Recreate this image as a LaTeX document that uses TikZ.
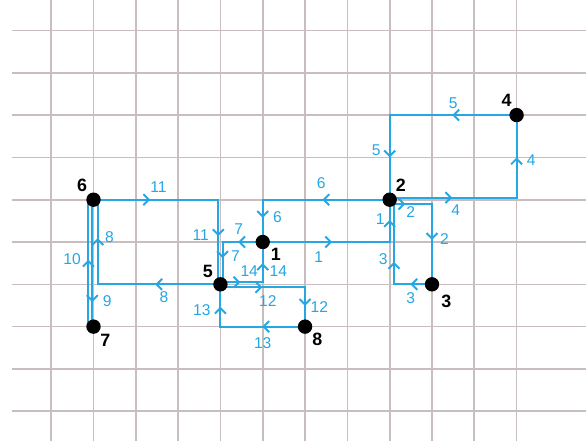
\documentclass[tikz,border=0pt]{standalone}
\usepackage{fontspec}
\setmainfont{Liberation Sans}
\usetikzlibrary{arrows.meta,decorations.markings,backgrounds}
\definecolor{walkblue}{RGB}{38,166,226}
\definecolor{gridgray}{RGB}{200,190,192}

\begin{document}
\begin{tikzpicture}[>={Straight Barb[length=1.3mm,width=2.6mm]},
dot/.style={circle,fill=black,inner sep=0pt,minimum size=3.4mm},
nlbl/.style={inner sep=1pt,font=\fontsize{12}{14}\selectfont\bfseries},
lbl/.style={inner sep=0pt,text=walkblue,font=\fontsize{10.5}{12}\selectfont},
walk/.style={draw=walkblue,line width=1.3pt},
grid line/.style={draw=gridgray,line width=1.1pt},
twoheads/.style 2 args={postaction={decorate},decoration={markings,
  mark=at position #1 with {\arrow{>}},mark=at position #2 with {\arrow{>}}}},
onehead/.style={postaction={decorate},decoration={markings,mark=at position #1 with {\arrow{>}}}}]
\useasboundingbox (-0.21,-0.68) rectangle (13.64,9.72);
\node[dot,label={[nlbl]-32:1}] (n1) at (6,4) {};
\node[dot,label={[nlbl]54:2}] (n2) at (9,5) {};
\node[dot,label={[nlbl,label distance=1mm]-50:3}] (n3) at (10,3) {};
\node[dot,label={[nlbl]116:4}] (n4) at (12,7) {};
\node[dot,label={[nlbl]140:5}] (n5) at (5,3) {};
\node[dot,label={[nlbl]128:6}] (n6) at (2,5) {};
\node[dot,label={[nlbl]-46:7}] (n7) at (2,2) {};
\node[dot,label={[nlbl]-42:8}] (n8) at (7,2) {};
\begin{scope}[on background layer]
\foreach \x in {1,...,12} \draw[grid line] (\x,-0.7) -- (\x,9.75);
\foreach \y in {0,...,9} \draw[grid line] (0.08,\y) -- (13.7,\y);
% the walk, step by step
\path[walk,twoheads={1.64cm}{-0.48cm}] (n1.center) -| node[lbl,pos=.22,below=2mm]{1} node[lbl,pos=.77,left=1mm]{1} (n2.center);
\path[walk,twoheads={0.37cm}{-1.05cm}] ([yshift=-1mm]n2.center) -| node[lbl,pos=.25,below=.5mm]{2} node[lbl,pos=.72,right=1.7mm]{2} (n3.center);
\path[walk,twoheads={0.51cm}{1.43cm}] (n3.center) -| node[lbl,pos=.28,below=1.7mm]{3} node[lbl,pos=.65,left=1.3mm]{3} ([xshift=1mm]n2.center);
\path[walk,twoheads={1.48cm}{-1cm}] ([yshift=.5mm]n2.center) -| node[lbl,pos=.26,below=1.4mm]{4} node[lbl,pos=.73,right=2.2mm]{4} (n4.center);
\path[walk,twoheads={1.52cm}{-1cm}] (n4.center) -| node[lbl,pos=.25,above=1.2mm]{5} node[lbl,pos=.71,left=1.9mm]{5} (n2.center);
\path[walk,twoheads={1.59cm}{-0.57cm}] (n2.center) -| node[lbl,pos=.27,above=2.4mm]{6} node[lbl,pos=.71,right=2.2mm]{6} (n1.center);
\path[walk,twoheads={0.58cm}{1.33cm}] (n1.center) -| node[lbl,pos=.3,above=1.5mm]{7} node[lbl,pos=.67,right=1.8mm]{7} ([xshift=.5mm]n5.center);
\path[walk,twoheads={1.54cm}{3.99cm}] (n5.center) -| node[lbl,pos=.23,below=1.4mm]{8} node[lbl,pos=.78,right=1.5mm]{8} ([xshift=1mm]n6.center) -- (n6.center);
\path[walk,onehead={-0.58cm}] ([xshift=-.3mm]n6.center) -- node[lbl,pos=.8,right=2.3mm]{9} ([xshift=-.3mm]n7.center);
\path[walk,onehead={1.58cm}] ([xshift=-1.2mm]n7.center) -- node[lbl,pos=.53,left=1.6mm]{10} ([xshift=-1.2mm]n6.center);
\path[walk,twoheads={1.34cm}{3.81cm}] (n6.center) -| node[lbl,pos=.26,above=1.4mm]{11} node[lbl,pos=.71,left=2mm]{11} ([xshift=-.5mm]n5.center);
\path[walk,twoheads={0.99cm}{-0.49cm}] ([yshift=-.7mm]n5.center) -| node[lbl,pos=.28,below=1.7mm]{12} node[lbl,pos=.75,right=1.1mm]{12} (n8.center);
\path[walk,twoheads={1.01cm}{2.47cm}] (n8.center) -| node[lbl,pos=.25,below=2.3mm]{13} node[lbl,pos=.7,left=2.1mm]{13} (n5.center);
\path[walk,twoheads={0.47cm}{-0.5cm}] ([yshift=.5mm]n5.center) -| node[lbl,pos=.34,above=1.1mm]{14} node[lbl,pos=.64,right=1.4mm]{14} (n1.center);
\end{scope}
\end{tikzpicture}
\end{document}
